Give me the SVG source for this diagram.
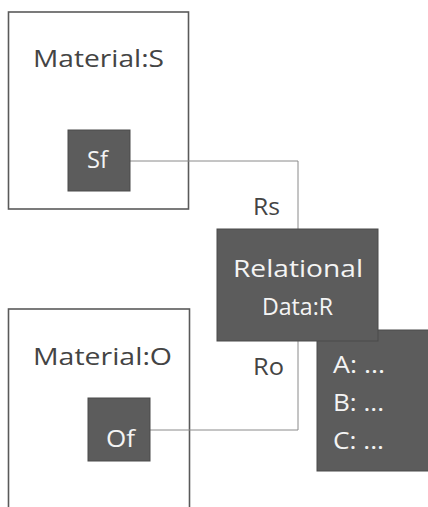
<svg xmlns="http://www.w3.org/2000/svg" width="428" height="507" viewBox="0 0 428 507">
<style>
.frame{fill:#ffffff;stroke:#5a5a5a;stroke-width:1.6}
.dark{fill:#5c5c5c;stroke:#4a4a4a;stroke-width:1}
.lbl{font-family:"Open Sans","Liberation Sans",sans-serif;font-size:24px;fill:#444444}
.wl{font-family:"Open Sans","Liberation Sans",sans-serif;font-size:24px;fill:#f4f4f4}
.conn{fill:none;stroke:#8a8a8a;stroke-width:1}
</style>
<rect width="428" height="507" fill="#ffffff"/>
<g id="materialS">
<rect class="frame" x="8.5" y="12" width="180" height="197"/>
<text class="lbl" x="33" y="67" textLength="131" lengthAdjust="spacingAndGlyphs">Material:S</text>
</g>
<g id="materialO">
<rect class="frame" x="8.5" y="309" width="181" height="210"/>
<text class="lbl" x="33" y="365" textLength="139" lengthAdjust="spacingAndGlyphs">Material:O</text>
</g>
<g id="connectors">
<polyline class="conn" points="129,161 298,161 298,230"/>
<polyline class="conn" points="298,340 298,430 150,430"/>
</g>
<g id="Sf">
<rect class="dark" x="68" y="130" width="62" height="61"/>
<text class="wl" x="87" y="168" textLength="21" lengthAdjust="spacingAndGlyphs">Sf</text>
</g>
<g id="Of">
<rect class="dark" x="88" y="398" width="62" height="63"/>
<text class="wl" x="106" y="447" textLength="29" lengthAdjust="spacingAndGlyphs">Of</text>
</g>
<g id="attrs">
<rect class="dark" x="317" y="330" width="113" height="141" stroke="none"/>
<text class="wl" x="333" y="373" textLength="52" lengthAdjust="spacingAndGlyphs">A: ...</text>
<text class="wl" x="333" y="411" textLength="51" lengthAdjust="spacingAndGlyphs">B: ...</text>
<text class="wl" x="333" y="449" textLength="51" lengthAdjust="spacingAndGlyphs">C: ...</text>
</g>
<g id="relational">
<rect class="dark" x="217" y="229" width="161" height="112" stroke="none"/>
<text class="wl" x="233" y="277" textLength="130" lengthAdjust="spacingAndGlyphs">Relational</text>
<text class="wl" x="262" y="315" textLength="71" lengthAdjust="spacingAndGlyphs">Data:R</text>
</g>
<g id="labels">
<text class="lbl" x="253" y="215" textLength="27" lengthAdjust="spacingAndGlyphs">Rs</text>
<text class="lbl" x="253" y="375" textLength="31" lengthAdjust="spacingAndGlyphs">Ro</text>
</g>
</svg>
